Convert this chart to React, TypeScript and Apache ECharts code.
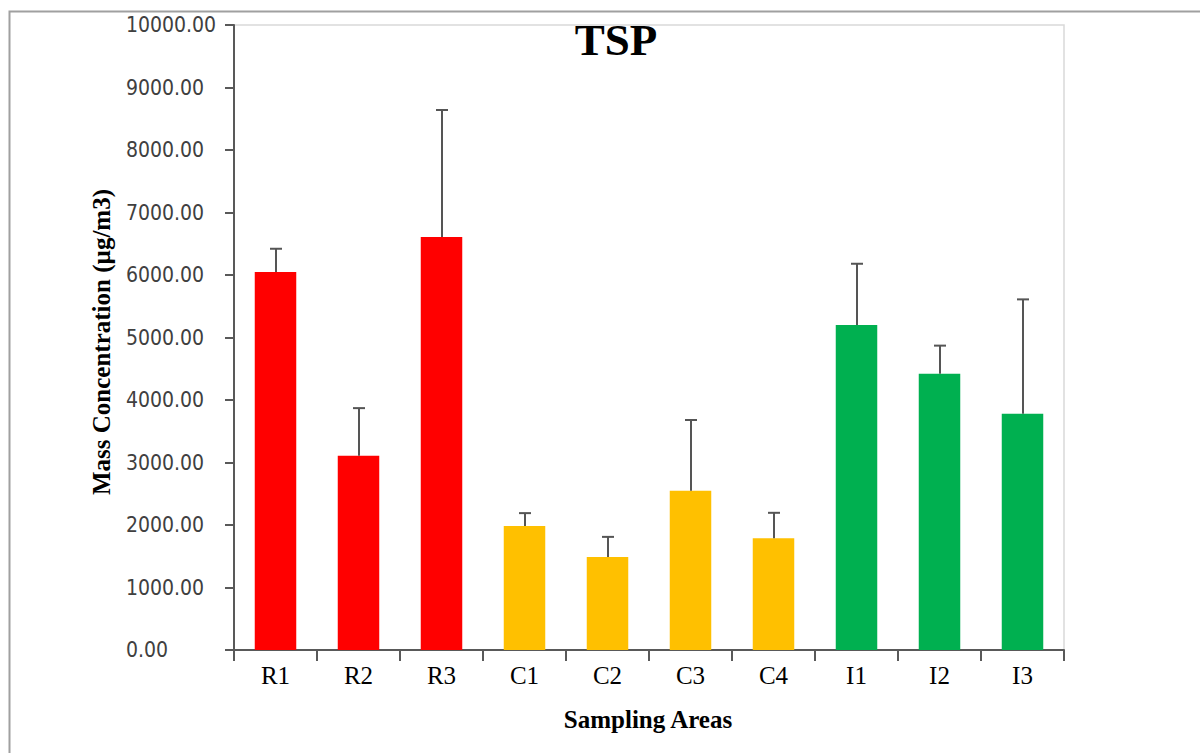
import React, { useEffect, useRef } from "react";
import * as echarts from "echarts";

const categories = ["R1", "R2", "R3", "C1", "C2", "C3", "C4", "I1", "I2", "I3"];
const means = [6050, 3110, 6610, 1985, 1490, 2550, 1790, 5200, 4420, 3780];
const upper = [6420, 3870, 8640, 2190, 1810, 3680, 2195, 6180, 4870, 5610];
const groupOf = ["R", "R", "R", "C", "C", "C", "C", "I", "I", "I"];
const groupColors: Record<string, string> = { R: "#FF0000", C: "#FFC000", I: "#00B050" };
const yTicks = [0, 10000, 1000];

export default function App() {
  const ref = useRef<HTMLDivElement>(null);
  useEffect(() => {
    if (!ref.current) return;
    const chart = echarts.init(ref.current, null, { renderer: "svg" });
    const serif = "'Liberation Serif', 'Times New Roman', serif";
    chart.setOption({
      animation: false,
      backgroundColor: "#ffffff",
      grid: {
        left: 234,
        top: 25,
        right: 136,
        bottom: 103,
        show: true,
        borderColor: "#d9d9d9",
        borderWidth: 1.5,
      },
      xAxis: {
        type: "category",
        data: categories,
        axisLine: { lineStyle: { color: "#595959", width: 2 } },
        axisTick: { show: true, length: 11, lineStyle: { color: "#595959", width: 2 } },
        axisLabel: { color: "#000", fontFamily: serif, fontSize: 25, margin: 13 },
      },
      yAxis: {
        type: "value",
        min: yTicks[0],
        max: yTicks[1],
        interval: yTicks[2],
        splitLine: { show: false },
        axisLine: { show: true, lineStyle: { color: "#595959", width: 2 } },
        axisTick: { show: true, length: 9, lineStyle: { color: "#595959", width: 2 } },
        axisLabel: {
          color: "#404040",
          fontFamily: "'DejaVu Sans Condensed', 'DejaVu Sans', sans-serif",
          fontSize: 21,
          margin: 108,
          align: "left",
          formatter: (v: number) => v.toFixed(2),
        },
      },
      graphic: [
        {
          type: "rect",
          shape: { x: 9.5, y: 11.5, width: 1400, height: 900 },
          style: { fill: "none", stroke: "#a0a0a0", lineWidth: 2 },
          z: 0,
          silent: true,
        },
        {
          type: "text",
          x: 616,
          y: 40,
          style: {
            text: "TSP",
            font: `bold 45px ${serif}`,
            fill: "#000",
            textAlign: "center",
            textVerticalAlign: "middle",
          },
        },
        {
          type: "text",
          x: 101,
          y: 342,
          rotation: Math.PI / 2,
          style: {
            text: "Mass Concentration (µg/m3)",
            font: `bold 25px ${serif}`,
            fill: "#000",
            textAlign: "center",
            textVerticalAlign: "middle",
          },
        },
        {
          type: "text",
          x: 648,
          y: 719,
          style: {
            text: "Sampling Areas",
            font: `bold 25px ${serif}`,
            fill: "#000",
            textAlign: "center",
            textVerticalAlign: "middle",
          },
        },
      ],
      series: [
        {
          type: "bar",
          barWidth: "50%",
          data: means.map((v, i) => ({ value: v, itemStyle: { color: groupColors[groupOf[i]] } })),
        },
        {
          type: "custom",
          data: means.map((v, i) => [i, v, upper[i]]),
          z: 3,
          renderItem: (params: any, api: any) => {
            const i = api.value(0);
            const p0 = api.coord([i, api.value(1)]);
            const p1 = api.coord([i, api.value(2)]);
            const x = Math.round(p0[0]);
            return {
              type: "group",
              children: [
                {
                  type: "line",
                  shape: { x1: x, y1: p0[1], x2: x, y2: p1[1] },
                  style: { stroke: "#555555", lineWidth: 2 },
                },
                {
                  type: "line",
                  shape: { x1: x - 6, y1: p1[1], x2: x + 6, y2: p1[1] },
                  style: { stroke: "#555555", lineWidth: 2 },
                },
              ],
            };
          },
        },
      ],
    });
    return () => chart.dispose();
  }, []);
  return (
    <div
      ref={ref}
      style={{ position: "fixed", left: 0, top: 0, width: 1200, height: 753 }}
    />
  );
}
